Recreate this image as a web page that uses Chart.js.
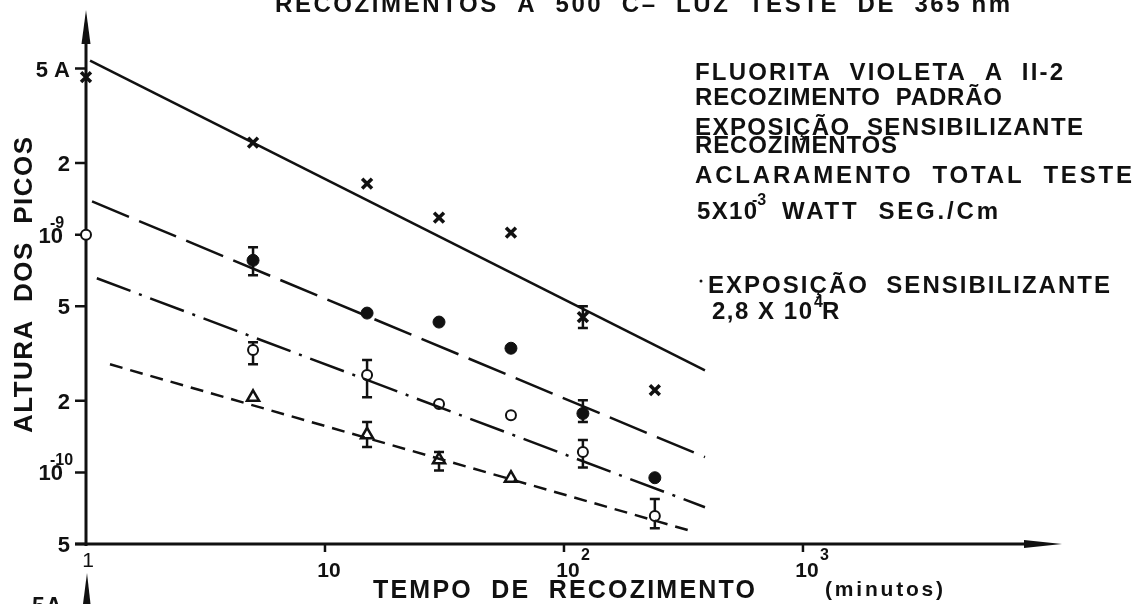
<!DOCTYPE html>
<html>
<head>
<meta charset="utf-8">
<script src="https://cdn.jsdelivr.net/npm/chart.js@4.4.0/dist/chart.umd.min.js"></script>
<style>
  html, body { margin: 0; padding: 0; background: #fff; }
  #wrap { width: 1134px; height: 604px; position: relative; overflow: hidden; }
</style>
</head>
<body>
<div id="wrap"><canvas id="grafico" width="1134" height="604"></canvas></div>
<script>
// tempo de recozimento (minutos)
const tempos = [1, 5, 15, 30, 60, 120, 240];
const temposCheio = [5, 15, 30, 60, 120, 240];
const temposTriang = [5, 15, 30, 60];

// altura dos picos
const alturaCruz = [4.6e-9, 2.44e-9, 1.64e-9, 1.18e-9, 1.02e-9, 4.5e-10, 2.22e-10];
const alturaCheio = [7.8e-10, 4.68e-10, 4.29e-10, 3.33e-10, 1.77e-10, 9.5e-11];
const alturaAberto = [1.0e-9, 3.27e-10, 2.57e-10, 1.94e-10, 1.74e-10, 1.22e-10, 6.56e-11];
const alturaTriang = [2.07e-10, 1.44e-10, 1.13e-10, 9.46e-11];

// barras de erro: [tempo, minimo, maximo]
const erroCruz = [[120, 4.05e-10, 5.0e-10]];
const erroCheio = [[5, 6.75e-10, 8.85e-10], [120, 1.63e-10, 2.01e-10]];
const erroAberto = [[5, 2.85e-10, 3.53e-10], [15, 2.07e-10, 2.97e-10], [120, 1.05e-10, 1.37e-10], [240, 5.83e-11, 7.73e-11]];
const erroTriang = [[15, 1.28e-10, 1.63e-10], [30, 1.02e-10, 1.22e-10]];

// retas tracadas (inicio e fim)
const retaCruzX = [1.04, 389];
const retaCruzY = [5.4e-9, 2.69e-10];
const retaCheioX = [1.06, 389];
const retaCheioY = [1.38e-9, 1.16e-10];
const retaAbertoX = [1.11, 389];
const retaAbertoY = [6.56e-10, 7.14e-11];
const retaTriangX = [1.26, 353];
const retaTriangY = [2.85e-10, 5.61e-11];

// marcas dos eixos
const ticksY = [5e-9, 2e-9, 1e-9, 5e-10, 2e-10, 1e-10, 5e-11];
const ticksYTexto = ['5 A', '2', '10', '5', '2', '10', '5'];
const ticksYExpoente = ['', '', '-9', '', '', '-10', ''];
const ticksX = [1, 10, 100, 1000];
const ticksXTexto = ['1', '10', '10', '10'];
const ticksXExpoente = ['', '', '2', '3'];

const pontos = (xs, ys) => xs.map((v, i) => ({ x: v, y: ys[i] }));
const FONTE = '"Liberation Sans", Arial, sans-serif';

// escreve um texto esticado ate a largura pedida
function escreve(ctx, txt, x, y, largura) {
    ctx.letterSpacing = '0px';
    let ls = 0;
    if (largura) {
        const w = ctx.measureText(txt).width;
        ls = (largura - w) / Math.max(1, [...txt].length - 1);
    }
    ctx.letterSpacing = ls + 'px';
    ctx.fillText(txt, x, y);
    ctx.letterSpacing = '0px';
}

function barraErro(ctx, px, p1, p2) {
    ctx.beginPath();
    ctx.moveTo(px, p1); ctx.lineTo(px, p2);
    ctx.moveTo(px - 5, p1); ctx.lineTo(px + 5, p1);
    ctx.moveTo(px - 5, p2); ctx.lineTo(px + 5, p2);
    ctx.stroke();
}

const papel = {
    id: 'papel',
    beforeDatasetsDraw(chart) {
        const ctx = chart.ctx;
        const sx = chart.scales.x, sy = chart.scales.y;
        const x0 = sx.getPixelForValue(1);
        const y0 = sy.getPixelForValue(5e-11);
        ctx.save();
        ctx.strokeStyle = '#111';
        ctx.fillStyle = '#111';

        // eixos
        ctx.lineWidth = 3;
        ctx.beginPath();
        ctx.moveTo(x0, 38); ctx.lineTo(x0, y0 + 2);
        ctx.moveTo(75, y0); ctx.lineTo(1028, y0);
        ctx.stroke();
        // setas
        ctx.beginPath();
        ctx.moveTo(x0, 10); ctx.lineTo(x0 + 4.5, 44); ctx.lineTo(x0 - 4.5, 44); ctx.closePath();
        ctx.fill();
        ctx.beginPath();
        ctx.moveTo(1024, y0 - 4); ctx.lineTo(1062, y0); ctx.lineTo(1024, y0 + 4); ctx.closePath();
        ctx.fill();
        // seta da figura seguinte
        ctx.beginPath();
        ctx.moveTo(x0 + 1, 573); ctx.lineTo(x0 + 4.5, 604); ctx.lineTo(x0 - 3, 604); ctx.closePath();
        ctx.fill();

        // marcas
        ctx.lineWidth = 2.5;
        ctx.beginPath();
        ticksY.forEach(v => {
            const p = sy.getPixelForValue(v);
            ctx.moveTo(75, p); ctx.lineTo(x0, p);
        });
        ticksX.slice(1).forEach(v => {
            const p = sx.getPixelForValue(v);
            ctx.moveTo(p, y0); ctx.lineTo(p, y0 + 8);
        });
        ctx.stroke();

        // barras de erro
        ctx.lineWidth = 2.5;
        [erroCruz, erroCheio, erroAberto, erroTriang].forEach(lista => {
            lista.forEach(e => {
                barraErro(ctx, sx.getPixelForValue(e[0]), sy.getPixelForValue(e[1]), sy.getPixelForValue(e[2]));
            });
        });
        ctx.restore();
    },
    afterDraw(chart) {
        const ctx = chart.ctx;
        const sx = chart.scales.x, sy = chart.scales.y;
        ctx.save();
        ctx.fillStyle = '#111';
        ctx.textBaseline = 'alphabetic';

        // rotulos do eixo y
        ticksY.forEach((v, i) => {
            const p = sy.getPixelForValue(v);
            ctx.font = 'bold 22px ' + FONTE;
            if (ticksYExpoente[i]) {
                ctx.textAlign = 'right';
                escreve(ctx, ticksYTexto[i], 63, p + 8);
                ctx.textAlign = 'left';
                ctx.font = 'bold 16px ' + FONTE;
                escreve(ctx, ticksYExpoente[i], 50, p - 7);
            } else {
                ctx.textAlign = 'right';
                escreve(ctx, ticksYTexto[i], 70, p + 8);
            }
        });

        // rotulos do eixo x
        ticksX.forEach((v, i) => {
            const p = sx.getPixelForValue(v);
            ctx.font = 'bold 21px ' + FONTE;
            ctx.textAlign = 'center';
            if (i === 0) {
                ctx.font = '21px ' + FONTE;
                escreve(ctx, ticksXTexto[i], p + 2, 567);
                return;
            }
            escreve(ctx, ticksXTexto[i], p + 4, 577);
            if (ticksXExpoente[i]) {
                ctx.textAlign = 'left';
                ctx.font = 'bold 16px ' + FONTE;
                escreve(ctx, ticksXExpoente[i], p + 17, 560);
            }
        });

        // titulo (cortado no topo)
        ctx.textAlign = 'left';
        ctx.font = 'bold 24px ' + FONTE;
        escreve(ctx, 'RECOZIMENTOS  A  500  C–  LUZ  TESTE  DE  365 nm', 275, 12, 735);

        // titulos dos eixos
        ctx.font = 'bold 25px ' + FONTE;
        escreve(ctx, 'TEMPO  DE  RECOZIMENTO', 373, 598, 382);
        ctx.font = 'bold 21px ' + FONTE;
        escreve(ctx, '(minutos)', 825, 596, 118);
        ctx.save();
        ctx.translate(32, 433);
        ctx.rotate(-Math.PI / 2);
        ctx.font = 'bold 26px ' + FONTE;
        escreve(ctx, 'ALTURA  DOS  PICOS', 0, 0, 296);
        ctx.restore();

        // anotacoes
        ctx.font = 'bold 24px ' + FONTE;
        escreve(ctx, 'FLUORITA  VIOLETA  A  II-2', 695, 80, 368);
        escreve(ctx, 'RECOZIMENTO  PADRÃO', 695, 105, 307);
        escreve(ctx, 'EXPOSIÇÃO  SENSIBILIZANTE', 695, 135, 388);
        escreve(ctx, 'RECOZIMENTOS', 695, 153, 202);
        escreve(ctx, 'ACLARAMENTO  TOTAL  TESTE', 695, 183, 437);
        escreve(ctx, '5X10', 697, 219, 60);
        escreve(ctx, 'WATT  SEG./Cm', 782, 219, 216);
        ctx.font = 'bold 16px ' + FONTE;
        escreve(ctx, '-3', 752, 205);
        ctx.font = 'bold 24px ' + FONTE;
        escreve(ctx, 'EXPOSIÇÃO  SENSIBILIZANTE', 708, 293, 402);
        escreve(ctx, '2,8 X 10', 712, 319, 100);
        escreve(ctx, 'R', 822, 319);
        ctx.font = 'bold 16px ' + FONTE;
        escreve(ctx, '4', 814, 307);
        ctx.beginPath();
        ctx.arc(701, 281, 1.5, 0, Math.PI * 2);
        ctx.fill();

        // inicio da figura seguinte
        ctx.font = 'bold 23px ' + FONTE;
        escreve(ctx, '5A', 32, 614, 30);
        ctx.restore();
    }
};

const linhaBase = { showLine: true, borderColor: '#111', borderWidth: 2.5, pointRadius: 0, clip: false, fill: false };

new Chart(document.getElementById('grafico'), {
    type: 'scatter',
    data: {
        datasets: [
            Object.assign({ data: pontos(retaCruzX, retaCruzY) }, linhaBase),
            Object.assign({ data: pontos(retaCheioX, retaCheioY), borderDash: [40, 11] }, linhaBase),
            Object.assign({ data: pontos(retaAbertoX, retaAbertoY), borderDash: [36, 9, 3, 9] }, linhaBase),
            Object.assign({ data: pontos(retaTriangX, retaTriangY), borderDash: [13, 8] }, linhaBase),
            {
                data: pontos(tempos, alturaCruz), clip: false,
                pointStyle: 'crossRot', pointRadius: 7, pointBorderWidth: 3.5,
                pointBorderColor: '#111', pointBackgroundColor: '#111'
            },
            {
                data: pontos(temposCheio, alturaCheio), clip: false,
                pointStyle: 'circle', pointRadius: 6, pointBorderWidth: 1,
                pointBorderColor: '#111', pointBackgroundColor: '#111'
            },
            {
                data: pontos(tempos, alturaAberto), clip: false,
                pointStyle: 'circle', pointRadius: 5, pointBorderWidth: 2,
                pointBorderColor: '#111', pointBackgroundColor: '#fff'
            },
            {
                data: pontos(temposTriang, alturaTriang), clip: false,
                pointStyle: 'triangle', pointRadius: 7, pointBorderWidth: 2.5,
                pointBorderColor: '#111', pointBackgroundColor: '#fff'
            }
        ]
    },
    options: {
        responsive: false,
        animation: false,
        devicePixelRatio: 1,
        layout: { padding: { left: 86, right: 74, top: 10, bottom: 60 } },
        scales: {
            x: { type: 'logarithmic', min: 1, max: 11900, bounds: 'data', display: false },
            y: { type: 'logarithmic', min: 5e-11, max: 8.77e-9, bounds: 'data', display: false }
        },
        plugins: {
            legend: { display: false },
            tooltip: { enabled: false }
        }
    },
    plugins: [papel]
});
</script>
</body>
</html>
